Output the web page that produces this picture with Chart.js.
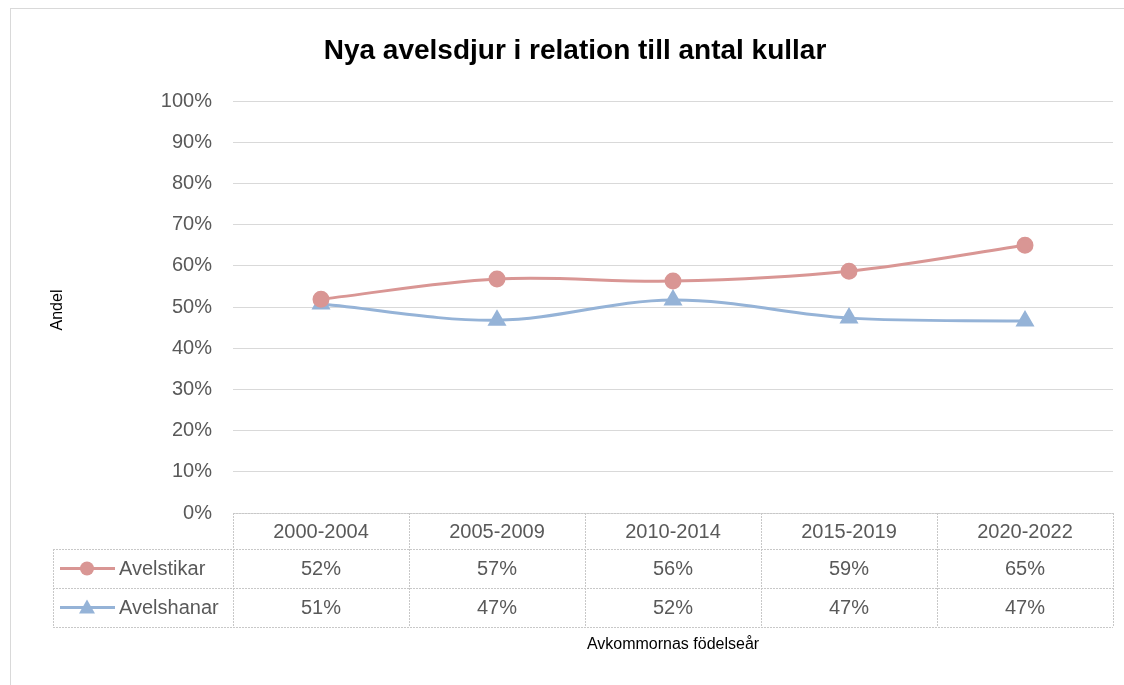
<!DOCTYPE html>
<html>
<head>
<meta charset="utf-8">
<script src="https://cdn.jsdelivr.net/npm/chart.js@4"></script>
<style>
  body { margin: 0; background: #fff; }
  #wrap { position: relative; width: 1124px; height: 685px; }
</style>
</head>
<body>
<div id="wrap"><canvas id="kullChart"></canvas></div>
<script>
// Data
const categories = ['2000-2004', '2005-2009', '2010-2014', '2015-2019', '2020-2022'];
const avelstikar = [51.9, 56.8, 56.3, 58.7, 65.0];
const avelshanar = [50.7, 46.8, 51.7, 47.3, 46.6];
const seriesNames = ['Avelstikar', 'Avelshanar'];
const chartTitle = 'Nya avelsdjur i relation till antal kullar';
const yTitle = 'Andel';
const xTitle = 'Avkommornas födelseår';

const RED = '#d99694';
const BLUE = '#95b3d7';
const FONT = '"Liberation Sans", Arial, sans-serif';
const GRAY_TXT = '#595959';

// Title, axis titles, data table and outer frame
const tablePlugin = {
    id: 'tablePlugin',
    afterDraw(chart) {
        const ctx = chart.ctx;
        const area = chart.chartArea;
        const x = chart.scales.x;
        const rowH = [36, 39, 39];
        const top = area.bottom;
        const legendLeft = 53;
        const colW = (area.right - area.left) / categories.length;

        ctx.save();
        // outer frame
        ctx.strokeStyle = '#d9d9d9';
        ctx.lineWidth = 1;
        ctx.strokeRect(10.5, 8.5, 1200, 800);

        // title
        ctx.fillStyle = '#000';
        ctx.font = 'bold 28px ' + FONT;
        ctx.textAlign = 'center';
        ctx.textBaseline = 'middle';
        ctx.fillText(chartTitle, 575, 51);

        // y title
        ctx.font = '16px ' + FONT;
        ctx.save();
        ctx.translate(58, 310);
        ctx.rotate(-Math.PI / 2);
        ctx.fillText(yTitle, 0, 0);
        ctx.restore();

        // x title
        ctx.fillText(xTitle, (area.left + area.right) / 2, 645);

        // table grid
        ctx.strokeStyle = '#c8c8c8';
        ctx.setLineDash([2, 1]);
        const y0 = top, y1 = top + rowH[0], y2 = y1 + rowH[1], y3 = y2 + rowH[2];
        const line = (ax, ay, bx, by) => {
            ctx.beginPath();
            ctx.moveTo(ax, ay);
            ctx.lineTo(bx, by);
            ctx.stroke();
        };
        line(area.left, y0 + 0.5, area.right, y0 + 0.5);
        line(legendLeft, y1 + 0.5, area.right, y1 + 0.5);
        line(legendLeft, y2 + 0.5, area.right, y2 + 0.5);
        line(legendLeft, y3 + 0.5, area.right, y3 + 0.5);
        line(legendLeft + 0.5, y1, legendLeft + 0.5, y3);
        for (let i = 0; i <= categories.length; i++) {
            const cx = Math.round(area.left + i * colW) + 0.5;
            line(cx, y0, cx, y3);
        }
        ctx.setLineDash([]);

        // header + values
        ctx.font = '20px ' + FONT;
        ctx.fillStyle = GRAY_TXT;
        ctx.textAlign = 'center';
        categories.forEach((c, i) => {
            const cx = x.getPixelForValue(i);
            ctx.fillText(c, cx, (y0 + y1) / 2 + 1);
            ctx.fillText(Math.round(avelstikar[i]) + '%', cx, (y1 + y2) / 2 + 1);
            ctx.fillText(Math.round(avelshanar[i]) + '%', cx, (y2 + y3) / 2 + 1);
        });

        // legend keys
        const keys = [
            { color: RED, y: (y1 + y2) / 2, marker: 'circle' },
            { color: BLUE, y: (y2 + y3) / 2, marker: 'triangle' }
        ];
        keys.forEach((k, i) => {
            ctx.strokeStyle = k.color;
            ctx.fillStyle = k.color;
            ctx.lineWidth = 3;
            line(60, k.y, 115, k.y);
            ctx.beginPath();
            if (k.marker === 'circle') {
                ctx.arc(87, k.y, 7, 0, Math.PI * 2);
            } else {
                ctx.moveTo(87, k.y - 8);
                ctx.lineTo(95, k.y + 6);
                ctx.lineTo(79, k.y + 6);
                ctx.closePath();
            }
            ctx.fill();
            ctx.fillStyle = GRAY_TXT;
            ctx.textAlign = 'left';
            ctx.font = '20px ' + FONT;
            ctx.fillText(seriesNames[i], 119, k.y + 1);
        });
        ctx.restore();
    }
};

const ctx = document.getElementById('kullChart').getContext('2d');
const kullChart = new Chart(ctx, {
    type: 'line',
    data: {
        labels: categories,
        datasets: [{
            label: seriesNames[0],
            data: avelstikar,
            borderColor: RED,
            backgroundColor: RED,
            borderWidth: 3,
            pointStyle: 'circle',
            pointRadius: 7,
            tension: 0.35,
            fill: false
        }, {
            label: seriesNames[1],
            data: avelshanar,
            borderColor: BLUE,
            backgroundColor: BLUE,
            borderWidth: 3,
            pointStyle: 'triangle',
            pointRadius: 8,
            tension: 0.35,
            fill: false
        }]
    },
    options: {
        responsive: true,
        maintainAspectRatio: false,
        animation: false,
        layout: { padding: { left: 0, top: 101, right: 11, bottom: 172 } },
        scales: {
            x: { display: false, offset: true },
            y: {
                min: 0,
                max: 100,
                afterFit: (scale) => { scale.width = 233; },
                border: { display: false },
                grid: { color: '#d9d9d9', drawTicks: false },
                ticks: {
                    stepSize: 10,
                    padding: 21,
                    color: GRAY_TXT,
                    font: { family: FONT, size: 20 },
                    callback: (v) => v + '%'
                }
            }
        },
        plugins: {
            legend: { display: false },
            tooltip: { enabled: false }
        }
    },
    plugins: [tablePlugin]
});
</script>
</body>
</html>
